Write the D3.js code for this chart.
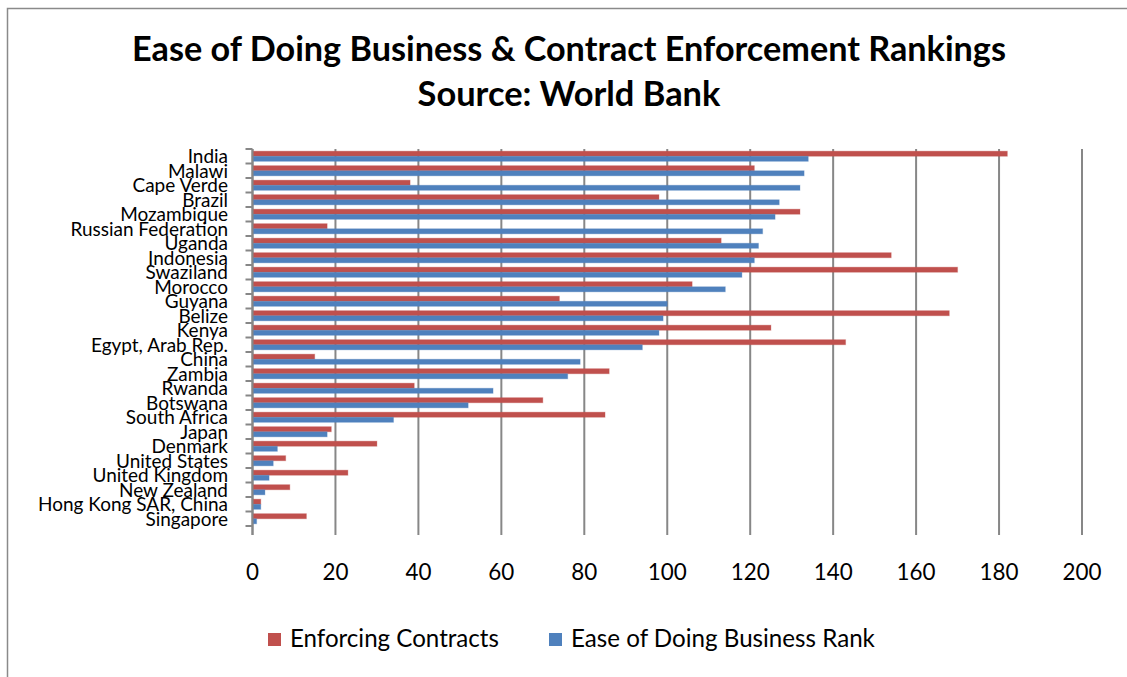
<!DOCTYPE html>
<html>
<head>
<meta charset="utf-8">
<script src="https://cdn.jsdelivr.net/npm/d3@7"></script>
<style>
  body { margin: 0; background: #fff; }
  text { font-family: Lato, "Open Sans", sans-serif; fill: #000; }
</style>
</head>
<body>
<svg id="chart"></svg>
<script>
// Data (top to bottom)
const countries = ["India", "Malawi", "Cape Verde", "Brazil", "Mozambique", "Russian Federation",
  "Uganda", "Indonesia", "Swaziland", "Morocco", "Guyana", "Belize", "Kenya", "Egypt, Arab Rep.",
  "China", "Zambia", "Rwanda", "Botswana", "South Africa", "Japan", "Denmark", "United States",
  "United Kingdom", "New Zealand", "Hong Kong SAR, China", "Singapore"];
const enforcing = [182, 121, 38, 98, 132, 18, 113, 154, 170, 106, 74, 168, 125, 143,
  15, 86, 39, 70, 85, 19, 30, 8, 23, 9, 2, 13];
const easeRank = [134, 133, 132, 127, 126, 123, 122, 121, 118, 114, 100, 99, 98, 94,
  79, 76, 58, 52, 34, 18, 6, 5, 4, 3, 2, 1];
const xTicks = [0, 20, 40, 60, 80, 100, 120, 140, 160, 180, 200];
const seriesNames = ["Enforcing Contracts", "Ease of Doing Business Rank"];
const seriesColors = ["#C0504D", "#4F81BD"];
const titleLines = ["Ease of Doing Business & Contract Enforcement Rankings", "Source: World Bank"];

const w = 1127;
const h = 677;
const plotTop = 149;
const plotBottom = 526;
const tickBottom = 535;

//scale the font so a text gets the width it has in the picture
function fitWidth(sel, target){
  const fs = parseFloat(sel.attr("font-size"));
  const cur = sel.node().getComputedTextLength();
  const size = fs * target / cur;
  sel.attr("font-size", size.toFixed(2));
  return size;
}

const svg = d3.select("#chart")
  .attr("width", w)
  .attr("height", h);

svg.append("rect")
  .attr("width", w).attr("height", h)
  .attr("fill", "#fff");

// outer chart frame (right and bottom edges fall outside the window)
svg.append("rect")
  .attr("x", 7.5).attr("y", 8.5)
  .attr("width", 1300).attr("height", 800)
  .attr("fill", "none")
  .attr("stroke", "#8a8a8a")
  .attr("stroke-width", 1.5);

//Title
titleLines.forEach((t, i) => {
  const txt = svg.append("text")
    .attr("x", 569)
    .attr("y", 61 + i * 45)
    .attr("text-anchor", "middle")
    .attr("font-weight", "bold")
    .attr("font-size", 34)
    .text(t);
  if (i === 0) fitWidth(txt, 874);
  else fitWidth(txt, 303);
});

//Scales
const xScale = d3.scaleLinear()
  .domain([0, 200])
  .range([252.5, 1082]);

const yScale = d3.scaleBand()
  .domain(countries)
  .range([plotTop, plotBottom])
  .paddingInner(0.3)
  .paddingOuter(0.15);

const subScale = d3.scaleBand()
  .domain([0, 1])
  .range([0, yScale.bandwidth()]);

//Gridlines with outside tick marks
svg.append("g")
  .selectAll("line")
  .data(xTicks)
  .enter()
  .append("line")
  .attr("x1", d => xScale(d)).attr("x2", d => xScale(d))
  .attr("y1", plotTop).attr("y2", tickBottom)
  .attr("stroke", "#878787")
  .attr("stroke-width", 2);

//Bars
const series = [enforcing, easeRank];
series.forEach((vals, s) => {
  svg.append("g")
    .selectAll("rect")
    .data(vals)
    .enter()
    .append("rect")
    .attr("x", xScale(0))
    .attr("y", (d, i) => yScale(countries[i]) + subScale(s))
    .attr("width", d => xScale(d) - xScale(0))
    .attr("height", subScale.bandwidth())
    .attr("fill", seriesColors[s])
    .attr("stroke", seriesColors[s])
    .attr("stroke-opacity", 0.3)
    .attr("stroke-width", 1);
});

//Y axis line and ticks between categories
const boundaries = d3.range(countries.length + 1).map(i => plotTop + i * yScale.step());
svg.append("line")
  .attr("x1", xScale(0)).attr("x2", xScale(0))
  .attr("y1", plotTop).attr("y2", tickBottom)
  .attr("stroke", "#878787")
  .attr("stroke-width", 2);
svg.append("g")
  .selectAll("line")
  .data(boundaries)
  .enter()
  .append("line")
  .attr("x1", xScale(0) - 7).attr("x2", xScale(0))
  .attr("y1", d => d).attr("y2", d => d)
  .attr("stroke", "#878787")
  .attr("stroke-width", 2);

//Category labels
const probe = svg.append("text").attr("font-size", 20).text("Hong Kong SAR, China");
const labelSize = fitWidth(probe, 190);
probe.remove();
svg.append("g")
  .selectAll("text")
  .data(countries)
  .enter()
  .append("text")
  .attr("x", 228)
  .attr("y", d => yScale(d) + yScale.bandwidth() / 2 + labelSize * 0.36)
  .attr("text-anchor", "end")
  .attr("font-size", labelSize.toFixed(2))
  .text(d => d);

//X tick labels
const probe2 = svg.append("text").attr("font-size", 24).text("200");
const tickSize = fitWidth(probe2, 39);
probe2.remove();
svg.append("g")
  .selectAll("text")
  .data(xTicks)
  .enter()
  .append("text")
  .attr("x", d => xScale(d))
  .attr("y", 580)
  .attr("text-anchor", "middle")
  .attr("font-size", tickSize.toFixed(2))
  .text(d => d);

//Legend
const legendX = [268, 549];
const legendW = [209, 304];
seriesNames.forEach((name, i) => {
  svg.append("rect")
    .attr("x", legendX[i]).attr("y", 633)
    .attr("width", 13).attr("height", 13)
    .attr("fill", seriesColors[i]);
  const t = svg.append("text")
    .attr("x", legendX[i] + 22)
    .attr("y", 647)
    .attr("font-size", 24)
    .text(name);
  fitWidth(t, legendW[i]);
});
</script>
</body>
</html>
